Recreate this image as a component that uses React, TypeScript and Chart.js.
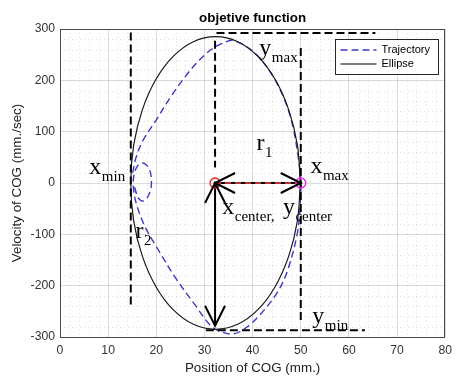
import { useEffect, useRef } from "react";
import { Chart, registerables } from "chart.js";
Chart.register(...registerables);

const titleText = "objetive function";
const xAxisTitle = "Position of COG (mm.)";
const yAxisTitle = "Velocity of COG (mm./sec)";
const xLimits = [0, 80];
const yLimits = [-300, 300];
const xMajorStep = 10;
const yMajorStep = 100;
const xMinorStep = 2;
const yMinorStep = 20;
const legendNames = ["Trajectory", "Ellipse"];

const trajectoryX = [15.1, 15.8, 17.3, 20.0, 23.0, 26.0, 29.0, 32.0, 34.5, 35.8, 39.0, 42.0, 45.5, 48.0, 49.4, 50.0, 49.9, 49.3, 47.2, 45.0, 41.5, 38.5, 36.0, 33.5, 31.3, 28.0, 24.0, 20.4, 17.7, 16.0, 15.3, 15.3, 16.0, 17.2, 18.5, 19.0, 18.5, 17.3, 16.2, 15.5];
const trajectoryY = [20, 50, 84, 123, 168, 207, 240, 264, 275, 278, 264, 238, 186, 124, 55, 5, -40, -97, -172, -215, -257, -283, -294, -290, -278, -237, -185, -130, -86, -45, -15, 12, 32, 39, 28, 3, -22, -35, -28, -8];

const ellipseX = [49.9, 49.3, 47.5, 44.7, 41.1, 36.9, 32.3, 27.7, 23.5, 19.9, 17.1, 15.3, 14.7, 15.3, 17.1, 19.9, 23.5, 27.7, 32.3, 36.9, 41.1, 44.7, 47.5, 49.3, 49.9];
const ellipseY = [0, 73.8, 142.5, 201.5, 246.8, 275.3, 285, 275.3, 246.8, 201.5, 142.5, 73.8, 0, -73.8, -142.5, -201.5, -246.8, -275.3, -285, -275.3, -246.8, -201.5, -142.5, -73.8, 0];

const guideXmin = [[14.7, 293], [14.7, -241]];
const guideXcenter = [[32.2, 277], [32.2, 30]];
const guideXmax = [[50.0, 263], [50.0, -272]];
const guideYmax = [[32.5, 292], [65.5, 292]];
const guideYmin = [[30.3, -287], [63.3, -287]];
const centerPoint = [32.2, 0];
const xMaxPoint = [50.0, 0];
const radiusLine = [[32.2, 0], [50.0, 0]];
const arrowR1 = [[32.2, 0], [50.0, 0]];
const arrowR2 = [[32.2, 0], [32.2, -278]];

const labelMains = ["y", "x", "r", "x", "x", "y", "r", "y"];
const labelSubs = ["max", "min", "1", "max", "center,", "center", "2", "min"];
const labelX = [41.4, 6.1, 40.8, 52.0, 33.7, 46.3, 15.7, 52.4];
const labelY = [249, 17.5, 64, 19.5, -60, -60, -107, -273];

const BLUE = "#3a3ac4";
const SANS = '"Liberation Sans", Arial, Helvetica, sans-serif';
const SERIF = '"Liberation Serif", "Times New Roman", serif';

const pts = (arr: number[][]) => arr.map(([x, y]) => ({ x, y }));
const lineDs = (data: any[], color: string, width: number, dash: number[] = [], tension = 0) => ({
  data,
  showLine: true,
  borderColor: color,
  borderWidth: width,
  borderDash: dash,
  pointRadius: 0,
  tension,
  fill: false,
});

const annotPlugin = {
  id: "annot",
  beforeDatasetsDraw(chart: any) {
    const { ctx, chartArea: a, scales } = chart;
    const xs = scales.x, ys = scales.y;
    ctx.save();
    ctx.strokeStyle = "rgba(0,0,0,0.13)";
    ctx.lineWidth = 1;
    ctx.setLineDash([1, 3]);
    for (let v = xLimits[0]; v <= xLimits[1]; v += xMinorStep) {
      if (v % xMajorStep === 0) continue;
      const p = Math.round(xs.getPixelForValue(v)) + 0.5;
      ctx.beginPath(); ctx.moveTo(p, a.top); ctx.lineTo(p, a.bottom); ctx.stroke();
    }
    for (let v = yLimits[0]; v <= yLimits[1]; v += yMinorStep) {
      if (v % yMajorStep === 0) continue;
      const p = Math.round(ys.getPixelForValue(v)) + 0.5;
      ctx.beginPath(); ctx.moveTo(a.left, p); ctx.lineTo(a.right, p); ctx.stroke();
    }
    ctx.restore();
  },
  afterDatasetsDraw(chart: any) {
    const { ctx, chartArea: a, scales } = chart;
    const xs = scales.x, ys = scales.y;
    ctx.save();
    const head = (fx: number, fy: number, tx: number, ty: number) => {
      const ang = Math.atan2(ty - fy, tx - fx);
      const L = 20, W = 10;
      const bx = tx - L * Math.cos(ang), by = ty - L * Math.sin(ang);
      const nx = -Math.sin(ang) * W, ny = Math.cos(ang) * W;
      ctx.beginPath();
      ctx.moveTo(bx + nx, by + ny);
      ctx.lineTo(tx, ty);
      ctx.lineTo(bx - nx, by - ny);
      ctx.stroke();
    };
    ctx.strokeStyle = "#000";
    ctx.lineWidth = 2;
    ctx.setLineDash([]);
    for (const arr of [arrowR1, arrowR2]) {
      const x0 = xs.getPixelForValue(arr[0][0]), y0 = ys.getPixelForValue(arr[0][1]);
      const x1 = xs.getPixelForValue(arr[1][0]), y1 = ys.getPixelForValue(arr[1][1]);
      head(x0, y0, x1, y1);
      head(x1, y1, x0, y0);
    }
    ctx.fillStyle = "#000";
    ctx.textAlign = "left";
    ctx.textBaseline = "alphabetic";
    for (let i = 0; i < labelMains.length; i++) {
      const px = xs.getPixelForValue(labelX[i]);
      const py = ys.getPixelForValue(labelY[i]);
      ctx.font = `24px ${SERIF}`;
      ctx.fillText(labelMains[i], px, py);
      const w = ctx.measureText(labelMains[i]).width;
      ctx.font = `15px ${SERIF}`;
      ctx.fillText(labelSubs[i], px + w + 0.5, py + 7);
    }
    ctx.strokeStyle = "#4a4a4a";
    ctx.lineWidth = 1;
    ctx.strokeRect(Math.round(a.left) + 0.5, Math.round(a.top) + 0.5, Math.round(a.right - a.left) - 1, Math.round(a.bottom - a.top));
    const lx = Math.round(a.right) - 109.5, ly = Math.round(a.top) + 10.5, lw = 103, lh = 35;
    ctx.fillStyle = "#fff";
    ctx.fillRect(lx, ly, lw, lh);
    ctx.strokeStyle = "#262626";
    ctx.strokeRect(lx, ly, lw, lh);
    const rows = [
      { name: legendNames[0], color: BLUE, dash: [7, 4], width: 1.5 },
      { name: legendNames[1], color: "#000", dash: [], width: 1.2 },
    ];
    rows.forEach((r, i) => {
      const yy = ly + 10.5 + i * 14;
      ctx.strokeStyle = r.color;
      ctx.lineWidth = r.width;
      ctx.setLineDash(r.dash);
      ctx.beginPath(); ctx.moveTo(lx + 5, yy); ctx.lineTo(lx + 41, yy); ctx.stroke();
      ctx.setLineDash([]);
      ctx.fillStyle = "#000";
      ctx.font = `11px ${SANS}`;
      ctx.textBaseline = "middle";
      ctx.fillText(r.name, lx + 46, yy);
    });
    ctx.fillStyle = "#000";
    ctx.font = `bold 13.4px ${SANS}`;
    ctx.textAlign = "center";
    ctx.textBaseline = "middle";
    ctx.fillText(titleText, (a.left + a.right) / 2, 18);
    ctx.restore();
  },
};

export default function App() {
  const ref = useRef<HTMLCanvasElement>(null);
  useEffect(() => {
    document.body.style.margin = "0";
    const trajectory = trajectoryX.map((x, i) => ({ x, y: trajectoryY[i] }));
    const ellipse = ellipseX.map((x, i) => ({ x, y: ellipseY[i] }));
    const chart = new Chart(ref.current as HTMLCanvasElement, {
      type: "scatter",
      data: {
        datasets: [
          {
            data: pts([centerPoint]),
            pointRadius: 5,
            pointBorderWidth: 1.3,
            pointBorderColor: "#e02020",
            pointBackgroundColor: "rgba(0,0,0,0)",
            showLine: false,
          } as any,
          {
            data: pts([xMaxPoint]),
            pointRadius: 5,
            pointBorderWidth: 1.3,
            pointBorderColor: "#f020f0",
            pointBackgroundColor: "rgba(0,0,0,0)",
            showLine: false,
          },
          lineDs(pts(radiusLine), "#ff4040", 1.3, [6, 4]),
          lineDs(pts(arrowR1), "#000", 2),
          lineDs(pts(arrowR2), "#000", 2),
          lineDs(pts(guideXmin), "#000", 2, [8, 4]),
          lineDs(pts(guideXcenter), "#000", 2, [8, 4]),
          lineDs(pts(guideXmax), "#000", 2, [8, 4]),
          lineDs(pts(guideYmax), "#000", 2, [8, 4]),
          lineDs(pts(guideYmin), "#000", 2, [8, 4]),
          lineDs(ellipse, "#1a1a1a", 1.2, [], 0.4),
          lineDs(trajectory, BLUE, 1.4, [7, 4], 0.35),
        ] as any,
      },
      options: {
        animation: false,
        responsive: false,
        layout: { padding: { top: 29, right: 6, left: 0, bottom: 0 } },
        plugins: { legend: { display: false }, title: { display: false }, tooltip: { enabled: false } },
        scales: {
          x: {
            type: "linear",
            min: xLimits[0],
            max: xLimits[1],
            afterFit: (s: any) => { s.height = 41; },
            ticks: { stepSize: xMajorStep, color: "#333", font: { family: SANS, size: 12.2 }, padding: 6 },
            grid: { color: "rgba(0,0,0,0.14)", drawTicks: false, lineWidth: 1 },
            border: { display: false },
            title: { display: true, text: xAxisTitle, color: "#222", font: { family: SANS, size: 13.4 }, padding: { top: 0, bottom: 2 } },
          },
          y: {
            type: "linear",
            min: yLimits[0],
            max: yLimits[1],
            afterFit: (s: any) => { s.width = 60; },
            ticks: { stepSize: yMajorStep, color: "#333", font: { family: SANS, size: 12.2 }, padding: 5 },
            grid: { color: "rgba(0,0,0,0.14)", drawTicks: false, lineWidth: 1 },
            border: { display: false },
            title: { display: true, text: yAxisTitle, color: "#222", font: { family: SANS, size: 13.4 }, padding: { top: 9, bottom: 0 } },
          },
        },
      },
      plugins: [annotPlugin],
    });
    return () => chart.destroy();
  }, []);
  return (
    <div style={{ position: "absolute", left: 0, top: 0, width: 458, height: 378 }}>
      <canvas ref={ref} width={458} height={378} style={{ display: "block" }} />
    </div>
  );
}
